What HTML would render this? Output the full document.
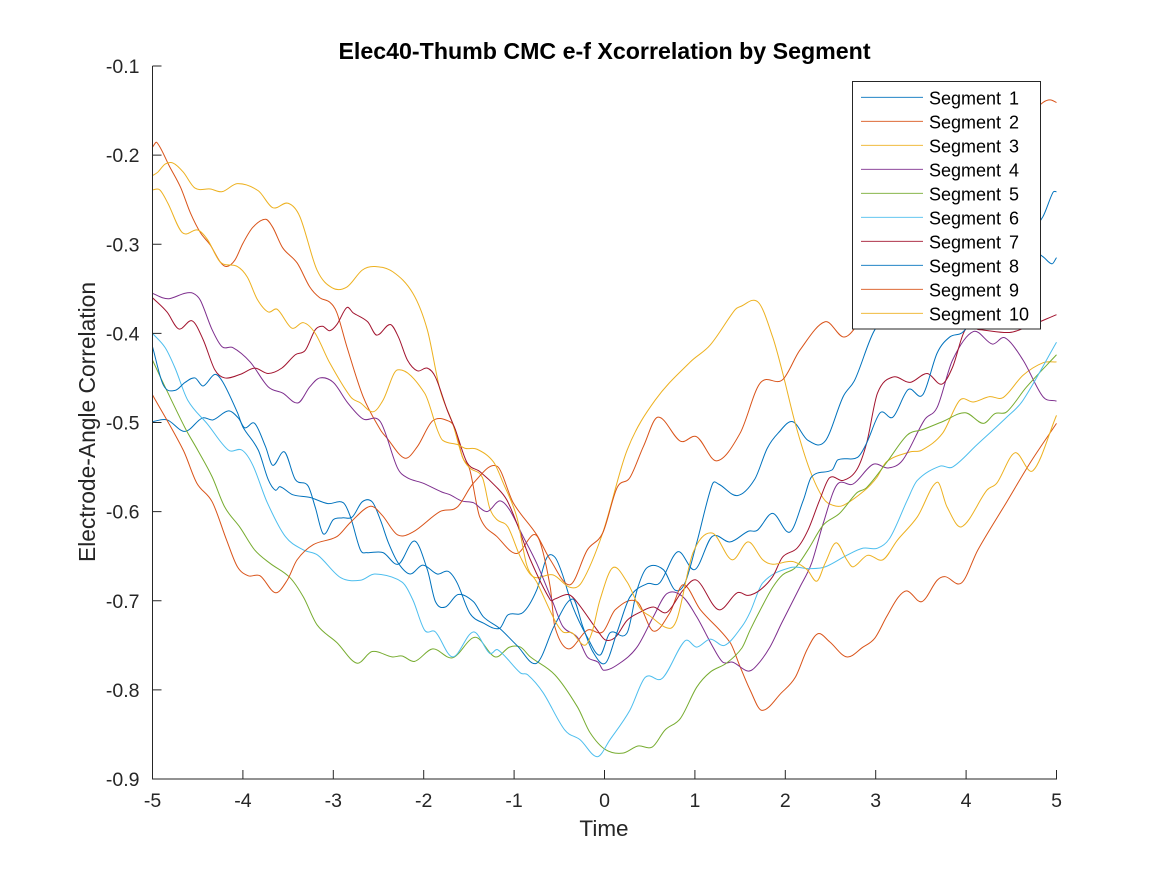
<!DOCTYPE html>
<html>
<head>
<meta charset="utf-8">
<title>Elec40-Thumb CMC e-f Xcorrelation by Segment</title>
<style>
html,body{margin:0;padding:0;background:#fff;width:1167px;height:875px;overflow:hidden}
svg{display:block}
text{font-family:"Liberation Sans",Arial,sans-serif;fill:#262626}
</style>
</head>
<body>
<svg id="chart" width="1167" height="875" viewBox="0 0 1167 875" xmlns="http://www.w3.org/2000/svg">
<rect x="0" y="0" width="1167" height="875" fill="#fff"/>
<g id="series"></g>
<g id="axes"></g>
<text x="604.5" y="59" text-anchor="middle" font-size="23.2" font-weight="bold" style="fill:#000">Elec40-Thumb CMC e-f Xcorrelation by Segment</text>
<text x="604" y="836" text-anchor="middle" font-size="22.5">Time</text>
<text transform="translate(95,422) rotate(-90)" text-anchor="middle" font-size="22.8">Electrode-Angle Correlation</text>
<g id="legend"></g>
</svg>
<script>
const xTicks = [-5,-4,-3,-2,-1,0,1,2,3,4,5];
const xTickLabels = ['-5','-4','-3','-2','-1','0','1','2','3','4','5'];
const yTicks = [-0.1,-0.2,-0.3,-0.4,-0.5,-0.6,-0.7,-0.8,-0.9];
const yTickLabels = ['-0.1','-0.2','-0.3','-0.4','-0.5','-0.6','-0.7','-0.8','-0.9'];
const seriesNames = ['Segment 1','Segment 2','Segment 3','Segment 4','Segment 5','Segment 6','Segment 7','Segment 8','Segment 9','Segment 10'];

const t1 = [-5,-4.84,-4.64,-4.45,-4.33,-4.16,-4.05,-3.98,-3.87,-3.75,-3.67,-3.54,-3.42,-3.28,-3.2,-3.11,-3,-2.9,-2.79,-2.68,-2.57,-2.48,-2.39,-2.28,-2.15,-2.01,-1.85,-1.73,-1.63,-1.49,-1.34,-1.16,-1.07,-0.9,-0.75,-0.64,-0.55,-0.47,-0.35,-0.19,-0.05,0.06,0.25,0.36,0.47,0.65,0.78,0.89,1.02,1.19,1.26,1.47,1.66,1.8,1.92,2.08,2.25,2.44,2.64,2.77,2.99,3.38,3.82,4.37,4.71,4.85,4.96,5];
const v1 = [-0.499,-0.497,-0.51,-0.495,-0.497,-0.487,-0.495,-0.506,-0.501,-0.527,-0.548,-0.533,-0.564,-0.571,-0.595,-0.625,-0.609,-0.607,-0.606,-0.589,-0.589,-0.609,-0.635,-0.658,-0.67,-0.66,-0.67,-0.667,-0.68,-0.714,-0.725,-0.731,-0.716,-0.713,-0.688,-0.652,-0.651,-0.669,-0.707,-0.741,-0.761,-0.736,-0.736,-0.688,-0.663,-0.665,-0.688,-0.68,-0.635,-0.57,-0.569,-0.582,-0.564,-0.529,-0.512,-0.499,-0.52,-0.521,-0.471,-0.452,-0.396,-0.351,-0.329,-0.306,-0.286,-0.269,-0.242,-0.241];

const t2 = [-5,-4.95,-4.81,-4.69,-4.58,-4.47,-4.36,-4.25,-4.18,-4.09,-4,-3.89,-3.75,-3.67,-3.56,-3.4,-3.26,-3.15,-3.04,-2.96,-2.85,-2.67,-2.48,-2.41,-2.21,-2.07,-1.9,-1.71,-1.65,-1.57,-1.49,-1.38,-1.19,-0.97,-0.79,-0.71,-0.6,-0.55,-0.4,-0.19,-0.02,0.12,0.36,0.54,0.72,0.87,1.06,1.39,1.5,1.61,1.74,1.96,2.11,2.24,2.36,2.49,2.68,2.86,2.99,3.12,3.25,3.35,3.51,3.68,3.77,3.95,4.13,4.45,4.71,5];
const v2 = [-0.191,-0.186,-0.213,-0.236,-0.265,-0.287,-0.301,-0.32,-0.325,-0.318,-0.299,-0.281,-0.272,-0.281,-0.304,-0.321,-0.348,-0.36,-0.365,-0.377,-0.415,-0.471,-0.508,-0.517,-0.54,-0.527,-0.498,-0.499,-0.508,-0.539,-0.553,-0.606,-0.628,-0.647,-0.626,-0.635,-0.685,-0.729,-0.754,-0.733,-0.735,-0.71,-0.701,-0.734,-0.714,-0.682,-0.71,-0.747,-0.774,-0.8,-0.823,-0.803,-0.786,-0.755,-0.737,-0.746,-0.763,-0.752,-0.742,-0.718,-0.696,-0.689,-0.701,-0.677,-0.673,-0.68,-0.643,-0.589,-0.545,-0.501];

const t3 = [-5,-4.94,-4.86,-4.77,-4.66,-4.53,-4.36,-4.23,-4.06,-3.83,-3.67,-3.5,-3.37,-3.18,-3.01,-2.85,-2.68,-2.54,-2.34,-2.12,-1.96,-1.82,-1.68,-1.57,-1.49,-1.35,-1.27,-1.19,-1.07,-0.93,-0.79,-0.57,-0.38,-0.25,-0.02,0.25,0.56,0.95,1.17,1.44,1.5,1.7,1.86,1.97,2.11,2.27,2.42,2.53,2.64,2.88,3.01,3.12,3.38,3.51,3.74,3.93,4.08,4.26,4.41,4.63,4.85,5];
const v3 = [-0.223,-0.219,-0.21,-0.209,-0.219,-0.237,-0.238,-0.241,-0.232,-0.24,-0.259,-0.254,-0.269,-0.329,-0.349,-0.348,-0.329,-0.325,-0.331,-0.355,-0.396,-0.463,-0.501,-0.539,-0.551,-0.562,-0.596,-0.609,-0.617,-0.651,-0.673,-0.671,-0.685,-0.679,-0.624,-0.531,-0.475,-0.432,-0.413,-0.374,-0.37,-0.365,-0.404,-0.444,-0.501,-0.553,-0.585,-0.593,-0.593,-0.576,-0.562,-0.544,-0.533,-0.531,-0.512,-0.475,-0.477,-0.471,-0.472,-0.447,-0.433,-0.432];

const t4 = [-5,-4.89,-4.81,-4.64,-4.55,-4.47,-4.34,-4.23,-4.11,-3.92,-3.72,-3.56,-3.39,-3.26,-3.15,-3,-2.84,-2.67,-2.48,-2.29,-2.18,-2.01,-1.8,-1.71,-1.58,-1.45,-1.3,-1.16,-1.05,-0.9,-0.75,-0.57,-0.46,-0.3,-0.19,-0.07,-0.01,0.17,0.36,0.54,0.69,0.86,1.02,1.2,1.31,1.42,1.59,1.69,1.83,1.96,2.16,2.29,2.42,2.57,2.75,2.97,3.14,3.3,3.54,3.68,3.85,4.08,4.29,4.43,4.63,4.85,5];
const v4 = [-0.355,-0.36,-0.361,-0.355,-0.355,-0.363,-0.396,-0.415,-0.416,-0.432,-0.46,-0.467,-0.478,-0.46,-0.45,-0.455,-0.478,-0.496,-0.499,-0.551,-0.562,-0.568,-0.578,-0.581,-0.588,-0.59,-0.6,-0.588,-0.598,-0.628,-0.658,-0.702,-0.729,-0.741,-0.763,-0.769,-0.778,-0.77,-0.752,-0.718,-0.692,-0.695,-0.718,-0.752,-0.769,-0.769,-0.779,-0.772,-0.752,-0.725,-0.685,-0.658,-0.613,-0.57,-0.569,-0.547,-0.551,-0.542,-0.497,-0.483,-0.43,-0.398,-0.412,-0.405,-0.43,-0.471,-0.476];

const t5 = [-5,-4.88,-4.64,-4.5,-4.34,-4.2,-4.03,-3.87,-3.7,-3.48,-3.33,-3.18,-2.96,-2.74,-2.57,-2.35,-2.24,-2.1,-1.9,-1.68,-1.43,-1.21,-1.05,-0.93,-0.82,-0.55,-0.3,-0.16,0.01,0.2,0.37,0.53,0.67,0.84,1.02,1.17,1.35,1.52,1.61,1.74,1.86,1.97,2.11,2.25,2.42,2.6,2.79,2.9,3.12,3.35,3.52,3.74,3.99,4.19,4.32,4.45,4.67,5];
const v5 = [-0.43,-0.456,-0.506,-0.531,-0.561,-0.595,-0.618,-0.643,-0.658,-0.674,-0.696,-0.727,-0.747,-0.77,-0.757,-0.763,-0.762,-0.768,-0.754,-0.764,-0.741,-0.763,-0.752,-0.752,-0.763,-0.783,-0.819,-0.848,-0.867,-0.871,-0.863,-0.864,-0.845,-0.832,-0.797,-0.78,-0.77,-0.753,-0.733,-0.707,-0.685,-0.671,-0.663,-0.643,-0.615,-0.602,-0.579,-0.573,-0.545,-0.514,-0.508,-0.499,-0.489,-0.501,-0.49,-0.488,-0.46,-0.424];

const t6 = [-5,-4.86,-4.75,-4.61,-4.39,-4.16,-4.01,-3.89,-3.73,-3.53,-3.33,-3.17,-2.92,-2.7,-2.54,-2.24,-2.12,-1.99,-1.87,-1.68,-1.45,-1.27,-1.18,-0.93,-0.85,-0.68,-0.44,-0.27,-0.08,0.06,0.28,0.45,0.64,0.89,1.02,1.17,1.33,1.52,1.61,1.75,2.05,2.27,2.44,2.68,2.86,3.02,3.16,3.35,3.46,3.71,3.85,4.12,4.45,4.63,5];
const v6 = [-0.4,-0.416,-0.439,-0.475,-0.502,-0.531,-0.531,-0.548,-0.59,-0.628,-0.643,-0.649,-0.674,-0.677,-0.67,-0.679,-0.699,-0.733,-0.735,-0.763,-0.735,-0.759,-0.755,-0.781,-0.783,-0.803,-0.845,-0.856,-0.875,-0.856,-0.823,-0.786,-0.787,-0.745,-0.752,-0.743,-0.75,-0.729,-0.713,-0.68,-0.663,-0.664,-0.662,-0.649,-0.641,-0.641,-0.629,-0.587,-0.565,-0.549,-0.55,-0.525,-0.494,-0.475,-0.41];

const t7 = [-5,-4.84,-4.71,-4.56,-4.44,-4.31,-4.2,-4.03,-3.87,-3.72,-3.57,-3.42,-3.31,-3.2,-3.12,-3.04,-2.96,-2.85,-2.78,-2.62,-2.52,-2.37,-2.28,-2.18,-2.07,-1.96,-1.87,-1.74,-1.65,-1.52,-1.38,-1.19,-1.08,-0.97,-0.82,-0.6,-0.55,-0.4,-0.3,-0.08,0.01,0.12,0.25,0.39,0.54,0.69,0.87,1.02,1.26,1.47,1.59,1.72,1.86,1.97,2.13,2.25,2.38,2.49,2.64,2.79,2.9,3.02,3.19,3.38,3.57,3.73,3.85,3.99,4.15,4.48,4.67,5];
const v7 = [-0.36,-0.376,-0.395,-0.386,-0.407,-0.441,-0.45,-0.446,-0.439,-0.445,-0.439,-0.424,-0.419,-0.396,-0.392,-0.397,-0.39,-0.371,-0.377,-0.387,-0.402,-0.39,-0.404,-0.43,-0.442,-0.439,-0.449,-0.486,-0.508,-0.545,-0.555,-0.573,-0.587,-0.613,-0.654,-0.699,-0.698,-0.693,-0.702,-0.733,-0.744,-0.741,-0.722,-0.713,-0.707,-0.713,-0.688,-0.677,-0.71,-0.691,-0.694,-0.688,-0.673,-0.651,-0.641,-0.621,-0.587,-0.562,-0.565,-0.553,-0.523,-0.467,-0.449,-0.455,-0.445,-0.457,-0.438,-0.396,-0.396,-0.399,-0.393,-0.379];

const t8 = [-5,-4.88,-4.75,-4.64,-4.53,-4.44,-4.31,-4.22,-4.06,-4,-3.83,-3.72,-3.64,-3.59,-3.45,-3.26,-3.06,-2.89,-2.81,-2.7,-2.63,-2.45,-2.28,-2.1,-1.96,-1.87,-1.76,-1.62,-1.45,-1.34,-1.16,-0.97,-0.75,-0.55,-0.35,-0.24,-0.13,0.01,0.14,0.28,0.47,0.61,0.81,1,1.19,1.39,1.59,1.69,1.86,2.05,2.2,2.29,2.52,2.58,2.8,2.9,3.05,3.19,3.36,3.52,3.68,3.82,3.97,4.21,4.48,4.71,4.85,4.95,5];
const v8 = [-0.415,-0.458,-0.464,-0.455,-0.45,-0.459,-0.446,-0.455,-0.489,-0.505,-0.531,-0.564,-0.576,-0.572,-0.581,-0.584,-0.591,-0.59,-0.606,-0.643,-0.646,-0.646,-0.659,-0.633,-0.665,-0.701,-0.707,-0.693,-0.701,-0.718,-0.731,-0.75,-0.77,-0.727,-0.698,-0.729,-0.757,-0.77,-0.735,-0.696,-0.681,-0.68,-0.645,-0.665,-0.628,-0.634,-0.622,-0.621,-0.602,-0.623,-0.587,-0.561,-0.553,-0.542,-0.539,-0.523,-0.489,-0.494,-0.463,-0.469,-0.422,-0.404,-0.398,-0.362,-0.329,-0.306,-0.314,-0.322,-0.315];

const t9 = [-5,-4.66,-4.51,-4.34,-4.18,-4.06,-3.94,-3.81,-3.64,-3.51,-3.4,-3.22,-2.96,-2.81,-2.59,-2.46,-2.29,-2.12,-1.82,-1.63,-1.45,-1.19,-1.01,-0.75,-0.6,-0.38,-0.19,-0.02,0.14,0.28,0.43,0.59,0.84,1.02,1.24,1.5,1.72,1.97,2.16,2.44,2.64,2.77,3.27,3.82,4.37,4.85,4.93,5];
const v9 = [-0.469,-0.531,-0.568,-0.589,-0.632,-0.662,-0.672,-0.672,-0.691,-0.677,-0.654,-0.637,-0.628,-0.612,-0.594,-0.604,-0.626,-0.623,-0.6,-0.595,-0.568,-0.549,-0.59,-0.626,-0.654,-0.682,-0.643,-0.624,-0.573,-0.562,-0.527,-0.494,-0.521,-0.516,-0.543,-0.512,-0.456,-0.452,-0.419,-0.387,-0.404,-0.394,-0.318,-0.239,-0.183,-0.141,-0.138,-0.141];

const t10 = [-5,-4.92,-4.83,-4.67,-4.5,-4.39,-4.25,-4.06,-3.95,-3.84,-3.72,-3.62,-3.46,-3.33,-3.2,-3.04,-2.81,-2.7,-2.56,-2.45,-2.29,-1.99,-1.85,-1.79,-1.62,-1.54,-1.41,-1.23,-1.12,-0.97,-0.86,-0.75,-0.55,-0.46,-0.36,-0.22,-0.14,-0.05,0.09,0.25,0.39,0.5,0.72,0.81,0.98,1.19,1.41,1.59,1.75,1.86,2.08,2.24,2.35,2.44,2.56,2.68,2.75,2.91,3.08,3.24,3.46,3.68,3.79,3.95,4.23,4.34,4.54,4.74,5];
const v10 = [-0.239,-0.239,-0.254,-0.287,-0.284,-0.295,-0.32,-0.325,-0.337,-0.362,-0.376,-0.373,-0.394,-0.388,-0.4,-0.433,-0.471,-0.478,-0.488,-0.475,-0.441,-0.467,-0.508,-0.52,-0.525,-0.529,-0.53,-0.544,-0.568,-0.606,-0.66,-0.679,-0.722,-0.735,-0.736,-0.75,-0.736,-0.699,-0.663,-0.679,-0.708,-0.717,-0.731,-0.718,-0.646,-0.624,-0.654,-0.634,-0.654,-0.659,-0.656,-0.665,-0.678,-0.658,-0.635,-0.654,-0.662,-0.649,-0.654,-0.632,-0.606,-0.567,-0.595,-0.617,-0.576,-0.568,-0.534,-0.554,-0.492];

const seriesTimes = [t1,t2,t3,t4,t5,t6,t7,t8,t9,t10];
const seriesValues = [v1,v2,v3,v4,v5,v6,v7,v8,v9,v10];
const seriesColors = ['#0072BD','#D95319','#EDB120','#7E2F8E','#77AC30','#4DBEEE','#A2142F','#0072BD','#D95319','#EDB120'];

const NS = 'http://www.w3.org/2000/svg';
const plotLeft = 152.5, plotRight = 1056.5, plotTop = 66, plotBottom = 779;
const xMin = -5, xMax = 5, yMin = -0.9, yMax = -0.1;
function xScale(t){ return plotLeft + (t - xMin) / (xMax - xMin) * (plotRight - plotLeft); }
function yScale(v){ return plotBottom - (v - yMin) / (yMax - yMin) * (plotBottom - plotTop); }

function smoothPath(ts, vs){
  const n = ts.length;
  const pts = [];
  for (let i = 0; i < n; i++) pts.push([xScale(ts[i]), yScale(vs[i])]);
  const slope = [];
  for (let i = 0; i < n; i++) {
    const a = pts[Math.max(0, i - 1)], b = pts[Math.min(n - 1, i + 1)];
    slope.push((b[1] - a[1]) / (b[0] - a[0]));
  }
  let d = 'M' + pts[0][0].toFixed(2) + ' ' + pts[0][1].toFixed(2);
  for (let i = 0; i < n - 1; i++) {
    const h = (pts[i + 1][0] - pts[i][0]) / 3;
    d += 'C' + (pts[i][0] + h).toFixed(2) + ' ' + (pts[i][1] + slope[i] * h).toFixed(2) + ' '
      + (pts[i + 1][0] - h).toFixed(2) + ' ' + (pts[i + 1][1] - slope[i + 1] * h).toFixed(2) + ' '
      + pts[i + 1][0].toFixed(2) + ' ' + pts[i + 1][1].toFixed(2);
  }
  return d;
}

const seriesGroup = document.getElementById('series');
seriesValues.forEach(function(vals, i){
  const p = document.createElementNS(NS, 'path');
  p.setAttribute('d', smoothPath(seriesTimes[i], vals));
  p.setAttribute('fill', 'none');
  p.setAttribute('stroke', seriesColors[i]);
  p.setAttribute('stroke-width', '1');
  p.setAttribute('stroke-linejoin', 'round');
  
  
  seriesGroup.appendChild(p);
});

function svgLine(parent, x1, y1, x2, y2, color, w){
  const l = document.createElementNS(NS, 'line');
  l.setAttribute('x1', x1);
  l.setAttribute('y1', y1);
  l.setAttribute('x2', x2);
  l.setAttribute('y2', y2);
  l.setAttribute('stroke', color);
  l.setAttribute('stroke-width', w);
  parent.appendChild(l);
  return l;
}

const axesGroup = document.getElementById('axes');
const xAxisLine = svgLine(axesGroup, plotLeft, plotBottom, plotRight + 0.5, plotBottom, '#262626', 1);


const yAxisLine = svgLine(axesGroup, plotLeft, plotTop, plotLeft, plotBottom + 0.5, '#262626', 1);



xTicks.forEach(function(t, i){
  const x = xScale(t);
  const tick = svgLine(axesGroup, x, plotBottom, x, plotBottom - 9, '#262626', 1);
  
  
  const label = document.createElementNS(NS, 'text');
  label.setAttribute('x', x);
  label.setAttribute('y', 807);
  label.setAttribute('text-anchor', 'middle');
  label.setAttribute('font-size', '19.5');
  label.textContent = xTickLabels[i];
  
  
  axesGroup.appendChild(label);
});

yTicks.forEach(function(v, i){
  const y = yScale(v);
  const tick = svgLine(axesGroup, plotLeft, y, plotLeft + 9, y, '#262626', 1);
  
  
  const label = document.createElementNS(NS, 'text');
  label.setAttribute('x', 139.5);
  label.setAttribute('y', y + 7);
  label.setAttribute('text-anchor', 'end');
  label.setAttribute('font-size', '19.5');
  label.textContent = yTickLabels[i];
  
  
  axesGroup.appendChild(label);
});

const legendGroup = document.getElementById('legend');
const legendBox = document.createElementNS(NS, 'rect');
legendBox.setAttribute('x', 852.5);
legendBox.setAttribute('y', 81.5);
legendBox.setAttribute('width', 188);
legendBox.setAttribute('height', 247.5);
legendBox.setAttribute('fill', '#fff');
legendBox.setAttribute('stroke', '#262626');
legendBox.setAttribute('stroke-width', '1');


legendGroup.appendChild(legendBox);

seriesNames.forEach(function(name, i){
  const y = 97.3 + i * 24;
  const key = svgLine(legendGroup, 861, y, 923, y, seriesColors[i], 0.8);
  
  
  const label = document.createElementNS(NS, 'text');
  label.setAttribute('x', 929);
  label.setAttribute('y', y + 7);
  label.setAttribute('font-size', '18');
  label.setAttribute('word-spacing', '3');
  label.style.fill = '#000';
  label.textContent = name;
  
  
  legendGroup.appendChild(label);
});
</script>
</body>
</html>
